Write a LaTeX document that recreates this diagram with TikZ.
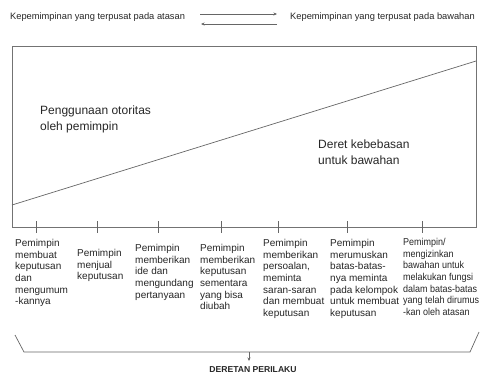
\documentclass[tikz,border=0pt]{standalone}
\usepackage{fontspec}
\setmainfont{Liberation Sans}
\newfontfamily\narrowsans[FakeStretch=0.9]{Liberation Sans}
\usetikzlibrary{arrows.meta}
\begin{document}
\begin{tikzpicture}[x=1pt,y=-1pt,
  coltext/.style={anchor=north west,inner sep=0pt,align=left,font=\fontsize{10}{11.7}\selectfont,text=black!85},
  toptext/.style={anchor=west,inner sep=0pt,font=\fontsize{9.3}{11}\selectfont,text=black!85},
  bigtext/.style={anchor=north west,inner sep=0pt,align=left,font=\fontsize{12}{15.5}\selectfont,text=black!85},
  frameline/.style={draw=black!55,line width=0.8pt},
  thinline/.style={draw=black!60,line width=0.7pt},
  arr/.style={thinline,-{Stealth[length=3.5pt,width=3pt]}}]
\useasboundingbox (0,0) rectangle (481,376);
% top legend
\node[toptext] (tl) at (10,17) {Kepemimpinan yang terpusat pada atasan};
\node[toptext] (tr) at (290,17) {Kepemimpinan yang terpusat pada bawahan};
\coordinate (a1s) at (200,14); \coordinate (a1e) at (277,14);
\coordinate (a2s) at (277,24); \coordinate (a2e) at (201,24);
\draw[arr] (a1s) -- (a1e);
\draw[arr] (a2s) -- (a2e);
% frame
\draw[frameline] (12,46) rectangle (476,227);
\coordinate (dl) at (12,205); \coordinate (dr) at (476,61);
\draw[thinline] (dl) -- (dr);
\node[bigtext] (pg) at (40,106) {Penggunaan otoritas\\oleh pemimpin};
\node[bigtext] (dk) at (318,140) {Deret kebebasan\\untuk bawahan};
% ticks
\foreach \x in {36,97,158,221,278,347,422}{
  \draw[thinline] (\x,221) -- (\x,233);
}
% columns
\node[coltext] (c1) at (15,239) {Pemimpin\\membuat\\keputusan\\dan\\mengumum\\-kannya};
\node[coltext] (c2) at (77,249) {Pemimpin\\menjual\\keputusan};
\node[coltext] (c3) at (135,244) {Pemimpin\\memberikan\\ide dan\\mengundang\\pertanyaan};
\node[coltext] (c4) at (200,244) {Pemimpin\\memberikan\\keputusan\\sementara\\yang bisa\\diubah};
\node[coltext] (c5) at (263,239) {Pemimpin\\memberikan\\persoalan,\\meminta\\saran-saran\\dan membuat\\keputusan};
\node[coltext] (c6) at (330,239) {Pemimpin\\merumuskan\\batas-batas-\\nya meminta\\pada kelompok\\untuk membuat\\keputusan};
\node[coltext,font=\narrowsans\fontsize{10}{11.7}\selectfont] (c7) at (403,238) {Pemimpin/\\mengizinkan\\bawahan untuk\\melakukan fungsi\\dalam batas-batas\\yang telah dirumus\\-kan oleh atasan};
% bracket
\draw[thinline] (15,335) -- (24,352) -- (470,352) -- (479,332);
\coordinate (bm) at (249,352);
\node[inner sep=0pt,font=\bfseries\fontsize{8.6}{10}\selectfont,text=black!85] (dp) at (253,370) {DERETAN PERILAKU};
\coordinate (ae) at (249,361);
\draw[arr] (bm) -- (ae);
\end{tikzpicture}
\end{document}
